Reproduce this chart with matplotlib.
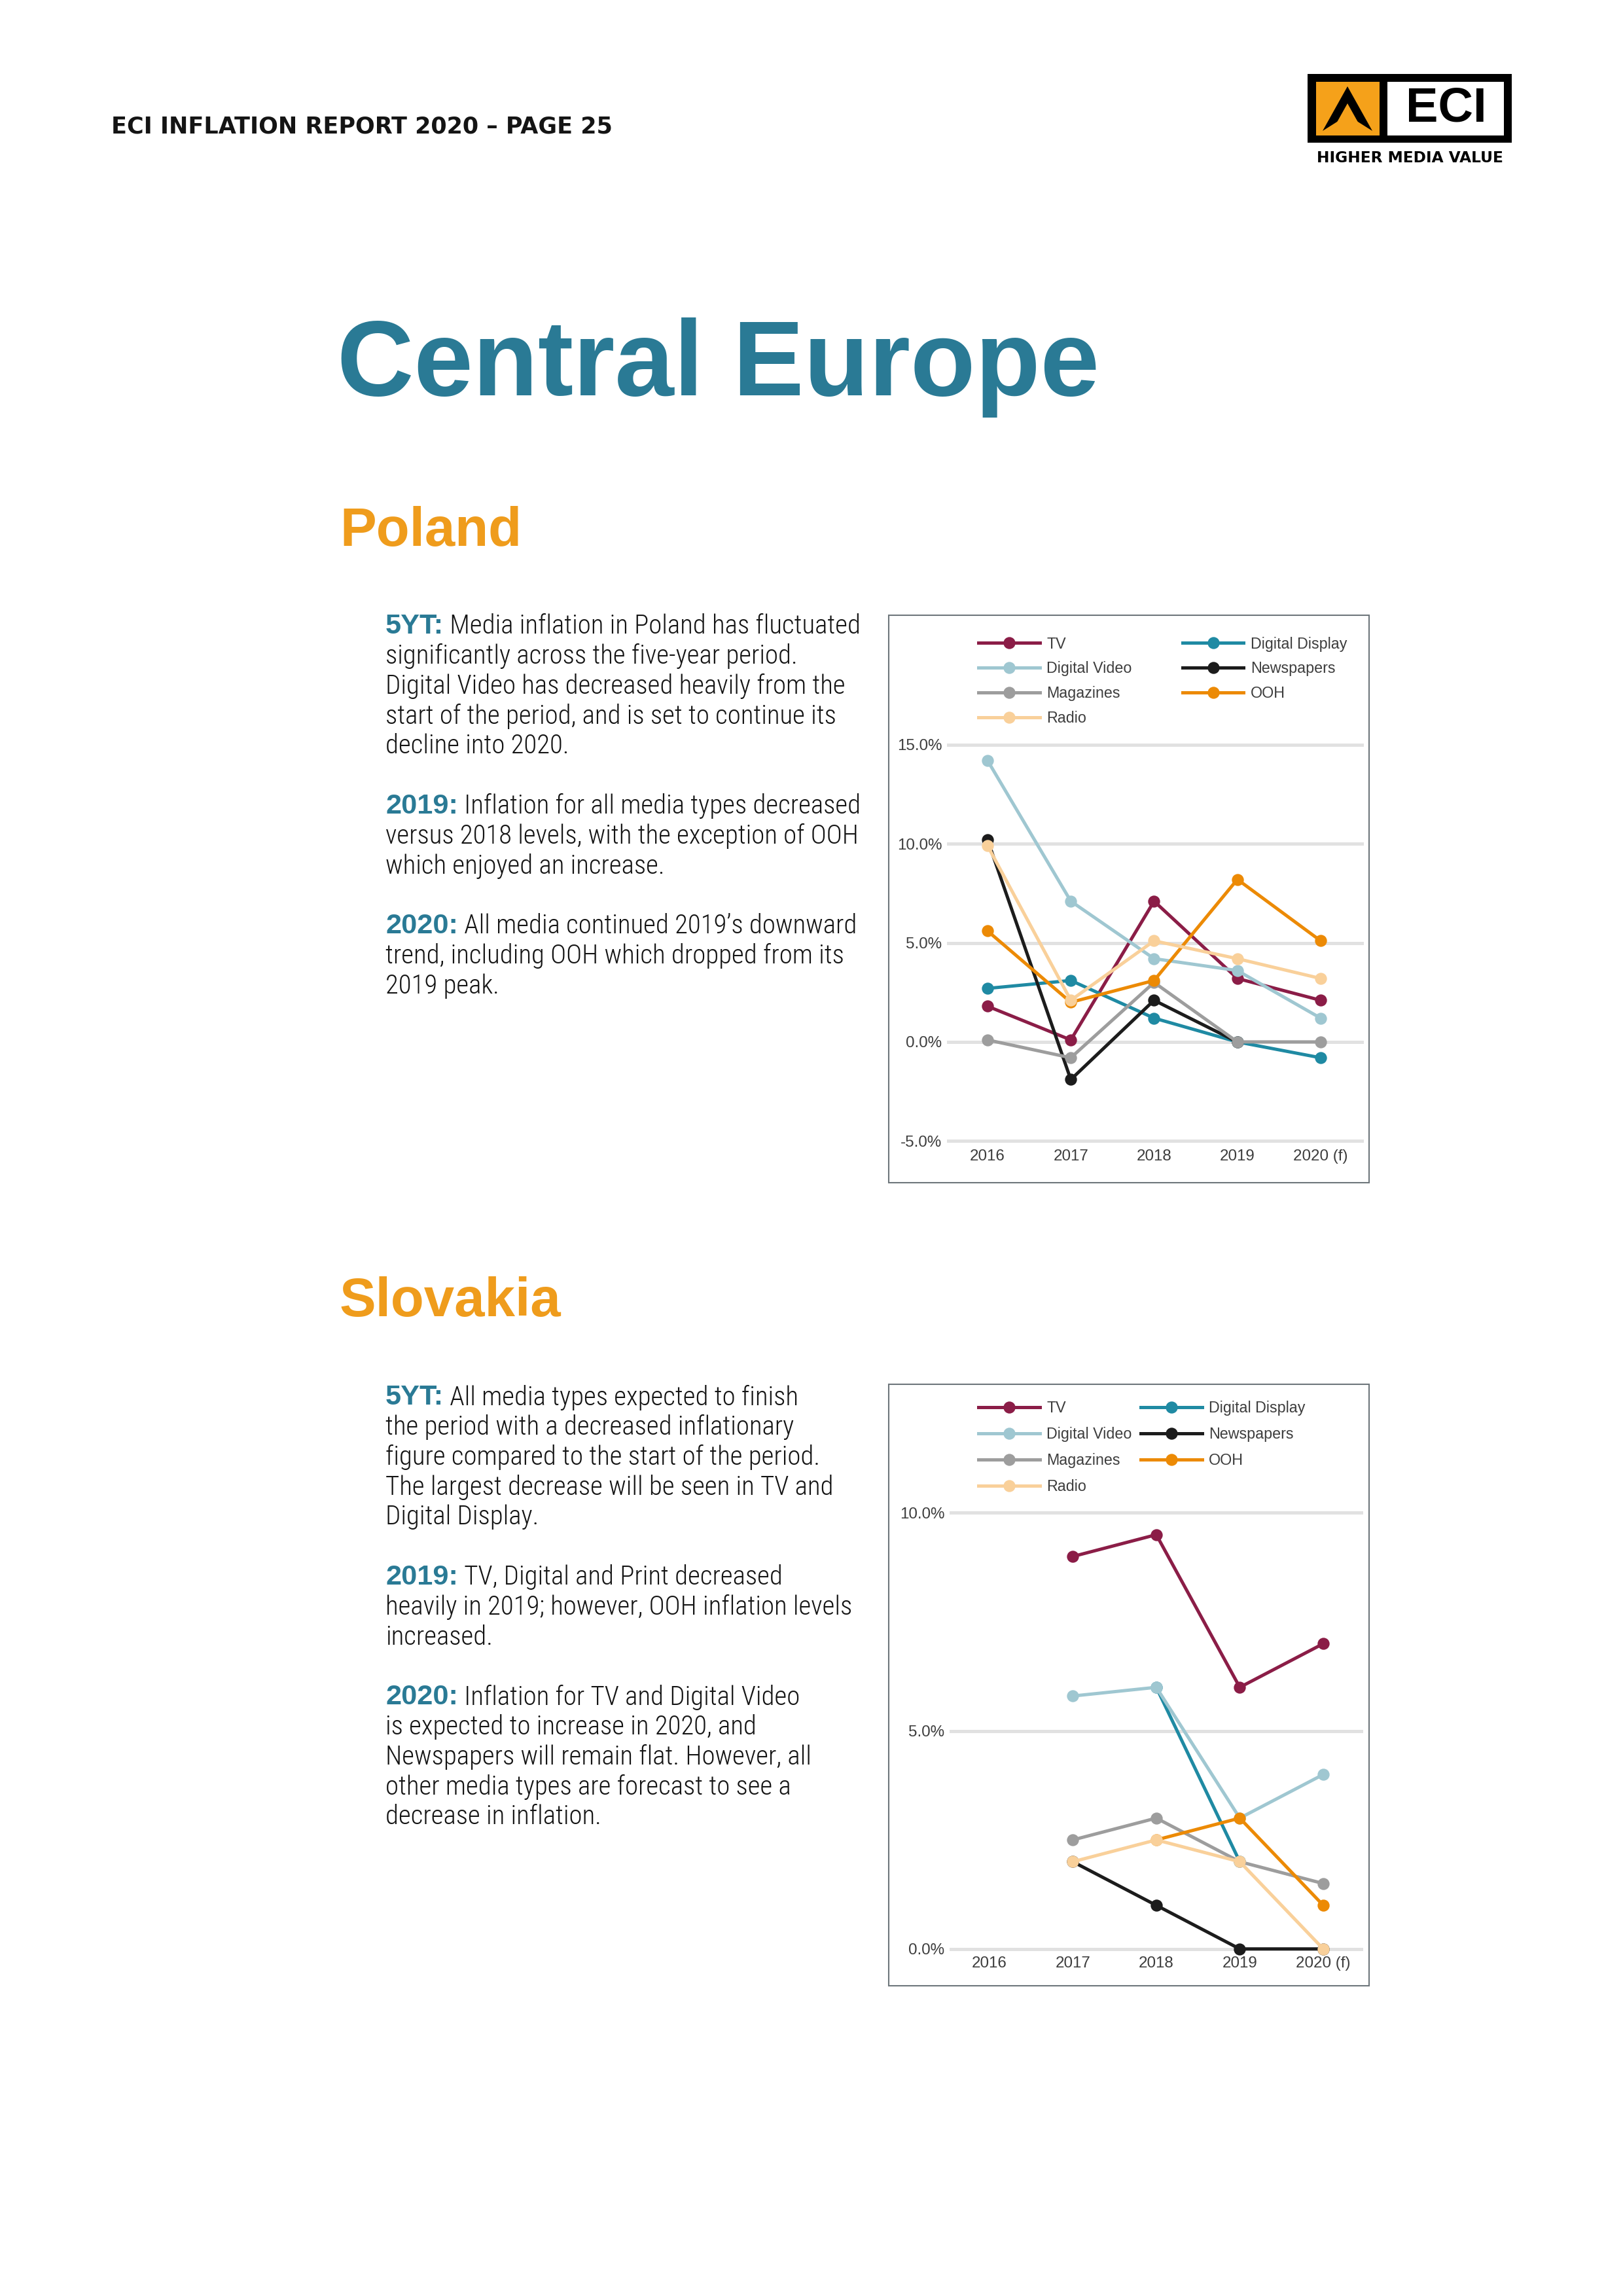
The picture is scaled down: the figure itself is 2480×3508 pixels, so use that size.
import numpy as np
import matplotlib
matplotlib.use("Agg")
import matplotlib.pyplot as plt
from matplotlib import font_manager
from matplotlib.patches import Rectangle, Polygon

nan = np.nan

# ---------------- data ----------------
years = ['2016', '2017', '2018', '2019', '2020 (f)']

poland_tv = [1.8, 0.1, 7.1, 3.2, 2.1]
poland_digital_display = [2.7, 3.1, 1.2, 0.0, -0.8]
poland_digital_video = [14.2, 7.1, 4.2, 3.6, 1.2]
poland_newspapers = [10.2, -1.9, 2.1, 0.0, nan]
poland_magazines = [0.1, -0.8, 3.0, 0.0, 0.0]
poland_ooh = [5.6, 2.0, 3.1, 8.2, 5.1]
poland_radio = [9.9, 2.1, 5.1, 4.2, 3.2]

slovakia_tv = [nan, 9.0, 9.5, 6.0, 7.0]
slovakia_digital_display = [nan, nan, 6.0, 2.0, nan]
slovakia_digital_video = [nan, 5.8, 6.0, 3.0, 4.0]
slovakia_newspapers = [nan, 2.0, 1.0, 0.0, 0.0]
slovakia_magazines = [nan, 2.5, 3.0, 2.0, 1.5]
slovakia_ooh = [nan, nan, 2.5, 3.0, 1.0]
slovakia_radio = [nan, 2.0, 2.5, 2.0, 0.0]

media = ['TV', 'Digital Display', 'Digital Video', 'Newspapers', 'Magazines', 'OOH', 'Radio']
legend_order = ['TV', 'Digital Video', 'Magazines', 'Radio', 'Digital Display', 'Newspapers', 'OOH']
media_colors = {'TV': '#8b1d47', 'Digital Display': '#1f8aa3', 'Digital Video': '#9fc7d1',
                'Newspapers': '#1c1c1c', 'Magazines': '#9d9d9d', 'OOH': '#ec8a05',
                'Radio': '#f9d09a'}

poland = [poland_tv, poland_digital_display, poland_digital_video, poland_newspapers,
          poland_magazines, poland_ooh, poland_radio]
slovakia = [slovakia_tv, slovakia_digital_display, slovakia_digital_video, slovakia_newspapers,
            slovakia_magazines, slovakia_ooh, slovakia_radio]

poland_text = [
    [("5YT:", " Media inflation in Poland has fluctuated"),
     "significantly across the five-year period.",
     "Digital Video has decreased heavily from the",
     "start of the period, and is set to continue its",
     "decline into 2020."],
    [("2019:", " Inflation for all media types decreased"),
     "versus 2018 levels, with the exception of OOH",
     "which enjoyed an increase."],
    [("2020:", " All media continued 2019\u2019s downward"),
     "trend, including OOH which dropped from its",
     "2019 peak."],
]
slovakia_text = [
    [("5YT:", " All media types expected to finish"),
     "the period with a decreased inflationary",
     "figure compared to the start of the period.",
     "The largest decrease will be seen in TV and",
     "Digital Display."],
    [("2019:", " TV, Digital and Print decreased"),
     "heavily in 2019; however, OOH inflation levels",
     "increased."],
    [("2020:", " Inflation for TV and Digital Video"),
     "is expected to increase in 2020, and",
     "Newspapers will remain flat. However, all",
     "other media types are forecast to see a",
     "decrease in inflation."],
]

# ---------------- fonts ----------------
installed = {f.name for f in font_manager.fontManager.ttflist}


def pick(cands):
    for c in cands:
        if c in installed:
            return c
    return 'DejaVu Sans'


head_font = pick(['Liberation Sans', 'Arial', 'DejaVu Sans'])
body_font = pick(['Liberation Sans Narrow', 'Roboto Condensed', 'Open Sans Condensed',
                  'Liberation Sans', 'DejaVu Sans'])
chart_font = pick(['Liberation Sans', 'DejaVu Sans'])

TEAL = '#2a7a95'
ORANGE = '#ef9c1c'
DARK = '#141414'

W, H = 2480, 3508
DPI = 300
fig = plt.figure(figsize=(W / DPI, H / DPI), dpi=DPI)
fig.patch.set_facecolor('white')


def fx(x):
    return x / W


def fy(y):
    return 1 - y / H


def box_patch(l, t, r, b, **kw):
    p = Rectangle((fx(l), fy(b)), (r - l) / W, (b - t) / H, transform=fig.transFigure, **kw)
    fig.patches.append(p)
    return p


# ---------------- header ----------------
fig.text(fx(170), fy(194), "ECI INFLATION REPORT 2020 \u2013 PAGE 25", fontsize=8.4,
         fontweight='bold', family='DejaVu Sans', color=DARK, va='center', ha='left')

# logo
box_patch(1998, 113, 2310, 218, facecolor='black', edgecolor='none')
box_patch(2011, 125, 2108, 207, facecolor='#f5a11a', edgecolor='none')
box_patch(2120, 125, 2298, 207, facecolor='white', edgecolor='none')
arrow_out = [(2059, 132), (2097, 200), (2059, 176), (2021, 200)]
arrow_in = [(2059, 158), (2078, 192), (2059, 181), (2040, 192)]
fig.patches.append(Polygon([(fx(a), fy(b)) for a, b in arrow_out], closed=True,
                           transform=fig.transFigure, facecolor='black', edgecolor='none'))
fig.patches.append(Polygon([(fx(a), fy(b)) for a, b in arrow_in], closed=True,
                           transform=fig.transFigure, facecolor='#f5a11a', edgecolor='none'))
fig.text(fx(2210), fy(166), "ECI", fontsize=17.8, fontweight='bold', family=head_font,
         color='black', ha='center', va='center')
fig.text(fx(2154), fy(241), "HIGHER MEDIA VALUE", fontsize=5.6, fontweight='bold',
         family='DejaVu Sans', color='black', ha='center', va='center')

# ---------------- titles ----------------
fig.text(fx(515), fy(604), "Central Europe", fontsize=39, fontweight='bold',
         family=head_font, color=TEAL, va='baseline')
fig.text(fx(519), fy(834), "Poland", fontsize=20, fontweight='bold',
         family=head_font, color=ORANGE, va='baseline')
fig.text(fx(519), fy(2011), "Slovakia", fontsize=20, fontweight='bold',
         family=head_font, color=ORANGE, va='baseline')

# ---------------- paragraphs ----------------
renderer = fig.canvas.get_renderer()
LINE = 45.8


def draw_paragraphs(paras, x0, y0):
    y = y0
    for para in paras:
        for line in para:
            if isinstance(line, tuple):
                t = fig.text(fx(x0), fy(y), line[0], fontsize=10.4, fontweight='bold',
                             family=head_font, color=TEAL, va='center', ha='left')
                bb = t.get_window_extent(renderer)
                fig.text(bb.x1 / W, fy(y), line[1], fontsize=9.8, fontweight='light',
                         family=body_font, color=DARK, va='center', ha='left')
            else:
                fig.text(fx(x0), fy(y), line, fontsize=9.8, fontweight='light',
                         family=body_font, color=DARK, va='center', ha='left')
            y += LINE
        y += LINE


draw_paragraphs(poland_text, 589, 957)
draw_paragraphs(slovakia_text, 589, 2135)


# ---------------- charts ----------------
def draw_chart(box, ax_rect, values, xlim, ylim, yticks, leg_xy, colspace, rowspace, xpad):
    box_patch(*box, facecolor='none', edgecolor='#6e767b', lw=0.5)
    l, r, t, b = ax_rect
    ax = fig.add_axes([fx(l), fy(b), (r - l) / W, (b - t) / H])
    x = np.arange(len(years))
    handles = {}
    for k, (name, vals) in enumerate(zip(media, values)):
        ln, = ax.plot(x, vals, color=media_colors[name], lw=1.2, marker='o', ms=3.4,
                      label=name, zorder=3 + k)
        handles[name] = ln
    for yt in yticks:
        ax.axhline(yt, color='#e1e1e1', lw=1.2, zorder=1)
    ax.set_xlim(*xlim)
    ax.set_ylim(*ylim)
    ax.set_yticks(yticks)
    ax.set_yticklabels(['{:.1f}%'.format(v) for v in yticks])
    ax.set_xticks(x)
    ax.set_xticklabels(years)
    ax.tick_params(length=0, labelsize=5.8, labelcolor='#3d3d3d')
    ax.tick_params(axis='y', pad=1.7)
    ax.tick_params(axis='x', pad=xpad)
    for lab in ax.get_xticklabels() + ax.get_yticklabels():
        lab.set_family(chart_font)
    for s in ax.spines.values():
        s.set_visible(False)
    ax.set_facecolor('none')
    leg = ax.legend([handles[n] for n in legend_order], legend_order, ncol=2,
                    loc='upper left', bbox_to_anchor=(fx(leg_xy[0]), fy(leg_xy[1])),
                    bbox_transform=fig.transFigure, frameon=False, borderpad=0,
                    handlelength=4.0, handletextpad=0.45, labelspacing=rowspace,
                    columnspacing=colspace, prop={'family': chart_font, 'size': 5.6})
    for txt in leg.get_texts():
        txt.set_color('#3d3d3d')
    return ax


draw_chart((1358, 940, 2092, 1807), (1446.6, 2084.2, 1128.6, 1752.4), poland,
           (-0.49, 4.52), (-5.3, 15.3), [-5.0, 0.0, 5.0, 10.0, 15.0],
           (1483.5, 961.0), 3.32, 0.63, 0.8)
draw_chart((1358, 2115, 2092, 3034), (1450.5, 2083.2, 2301.5, 2987.7), slovakia,
           (-0.48, 4.48), (-0.15, 10.15), [0.0, 5.0, 10.0],
           (1483.5, 2128.0), 0.6, 0.73, 0.2)

fig.savefig('out.png', dpi=DPI, facecolor='white')
